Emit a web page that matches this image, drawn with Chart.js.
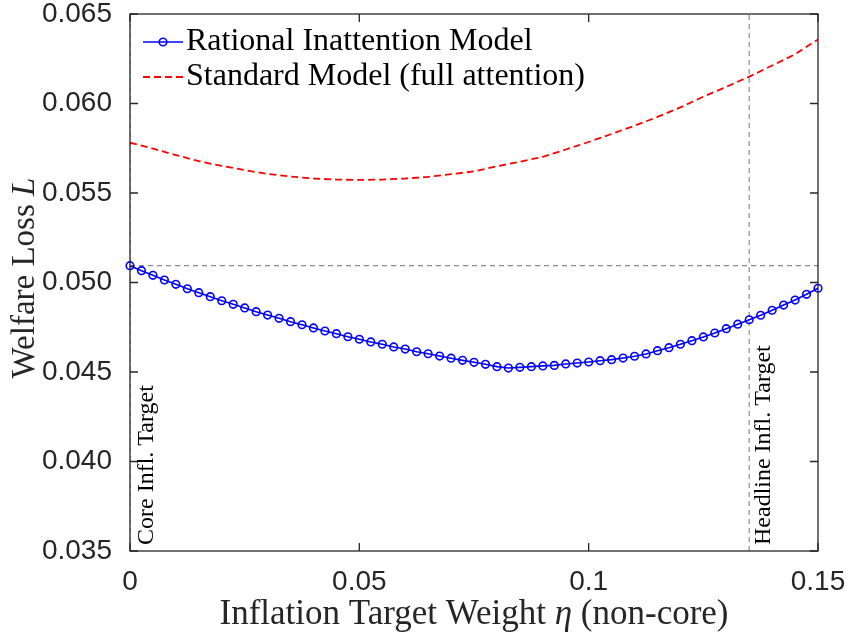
<!DOCTYPE html>
<html>
<head>
<meta charset="utf-8">
<script src="https://cdn.jsdelivr.net/npm/chart.js@4.4.0/dist/chart.umd.min.js"></script>
<style>
  html, body { margin: 0; padding: 0; background: #fff; }
  #wrap { width: 848px; height: 633px; }
</style>
</head>
<body>
<div id="wrap"><canvas id="lossChart"></canvas></div>
<script>
// inflation target weight on non-core (grid of the RI model)
const eta = [
  0, 0.0025, 0.005, 0.0075, 0.01, 0.0125, 0.015, 0.0175, 0.02, 0.0225,
  0.025, 0.0275, 0.03, 0.0325, 0.035, 0.0375, 0.04, 0.0425, 0.045, 0.0475,
  0.05, 0.0525, 0.055, 0.0575, 0.06, 0.0625, 0.065, 0.0675, 0.07, 0.0725,
  0.075, 0.0775, 0.08, 0.0825, 0.085, 0.0875, 0.09, 0.0925, 0.095, 0.0975,
  0.1, 0.1025, 0.105, 0.1075, 0.11, 0.1125, 0.115, 0.1175, 0.12, 0.1225,
  0.125, 0.1275, 0.13, 0.1325, 0.135, 0.1375, 0.14, 0.1425, 0.145, 0.1475,
  0.15
];
const riLoss = [
  0.05094, 0.05066, 0.05040, 0.05014, 0.04990, 0.04965, 0.04943, 0.04921, 0.04898, 0.04878,
  0.04858, 0.04837, 0.04818, 0.04800, 0.04781, 0.04764, 0.04746, 0.04729, 0.04714, 0.04697,
  0.04683, 0.04668, 0.04655, 0.04640, 0.04628, 0.04613, 0.04602, 0.04589, 0.04577, 0.04565,
  0.04554, 0.04543, 0.04530, 0.04522, 0.04526, 0.04530, 0.04534, 0.04537, 0.04545, 0.04550,
  0.04556, 0.04563, 0.04569, 0.04578, 0.04588, 0.04601, 0.04619, 0.04636, 0.04655, 0.04675,
  0.04696, 0.04718, 0.04742, 0.04767, 0.04792, 0.04817, 0.04845, 0.04874, 0.04902, 0.04934,
  0.04968
];
// standard model (full attention)
const etaStd = [
  0, 0.005, 0.01, 0.015, 0.02, 0.025, 0.03, 0.035, 0.04, 0.045,
  0.05, 0.055, 0.06, 0.065, 0.07, 0.075, 0.08, 0.085, 0.09, 0.095,
  0.1, 0.105, 0.11, 0.115, 0.12, 0.125, 0.13, 0.135, 0.14, 0.145,
  0.15
];
const stdLoss = [
  0.05781, 0.05748, 0.05712, 0.05678, 0.05651, 0.05628, 0.05606, 0.05592, 0.05581, 0.05575,
  0.05573, 0.05575, 0.05581, 0.05590, 0.05605, 0.05621, 0.05649, 0.05675, 0.05702, 0.05743,
  0.05785, 0.05830, 0.05876, 0.05925, 0.05978, 0.06038, 0.06093, 0.06150, 0.06212, 0.06275,
  0.06358
];
const coreTarget = 0;
const headlineTarget = 0.135;
const xTicks = [0, 0.05, 0.1, 0.15];
const xTickLabels = ["0", "0.05", "0.1", "0.15"];
const yTicks = [0.035, 0.04, 0.045, 0.05, 0.055, 0.06, 0.065];
const yTickLabels = ["0.035", "0.040", "0.045", "0.050", "0.055", "0.060", "0.065"];

const xMin = 0, xMax = 0.15, yMin = 0.035, yMax = 0.065;
const axisColor = "#262626";
const serif = "'Liberation Serif', 'Times New Roman', serif";

const toPts = (xs, ys) => xs.map((x, i) => ({ x: x, y: ys[i] }));

// draws mixed regular/italic text pieces centered horizontally at 0, on baseline 0
const drawPieces = (c, pieces, size) => {
  let total = 0;
  const widths = pieces.map((p) => {
    c.font = (p[1] ? "italic " : "") + size + "px " + serif;
    const w = c.measureText(p[0]).width;
    total += w;
    return w;
  });
  let x = -total / 2;
  pieces.forEach((p, i) => {
    c.font = (p[1] ? "italic " : "") + size + "px " + serif;
    c.fillText(p[0], x, 0);
    x += widths[i];
  });
};

const matlabAxes = {
  id: "matlabAxes",
  afterDraw(chart) {
    const c = chart.ctx;
    const a = chart.chartArea;
    const xs = chart.scales.x, ys = chart.scales.y;
    c.save();
    // box
    c.strokeStyle = axisColor;
    c.lineWidth = 1.3;
    c.setLineDash([]);
    c.strokeRect(a.left, a.top, a.right - a.left, a.bottom - a.top);
    // inward ticks on all sides
    const tl = 8;
    c.beginPath();
    xTicks.forEach((v) => {
      const px = xs.getPixelForValue(v);
      c.moveTo(px, a.bottom); c.lineTo(px, a.bottom - tl);
      c.moveTo(px, a.top); c.lineTo(px, a.top + tl);
    });
    yTicks.forEach((v) => {
      const py = ys.getPixelForValue(v);
      c.moveTo(a.left, py); c.lineTo(a.left + tl, py);
      c.moveTo(a.right, py); c.lineTo(a.right - tl, py);
    });
    c.stroke();

    // legend
    const lx0 = a.left + 13, lx1 = a.left + 53;
    const r1 = a.top + 28, r2 = a.top + 63;
    c.strokeStyle = "#0000ff";
    c.lineWidth = 1.6;
    c.beginPath(); c.moveTo(lx0, r1); c.lineTo(lx1, r1); c.stroke();
    c.beginPath(); c.arc((lx0 + lx1) / 2, r1, 3.8, 0, Math.PI * 2); c.stroke();
    c.strokeStyle = "#ff0000";
    c.lineWidth = 1.8;
    c.setLineDash([7, 4]);
    c.beginPath(); c.moveTo(lx0, r2); c.lineTo(lx1, r2); c.stroke();
    c.setLineDash([]);
    c.fillStyle = "#000";
    c.textAlign = "left";
    c.textBaseline = "middle";
    c.font = "32px " + serif;
    c.fillText("Rational Inattention Model", lx1 + 3, r1);
    c.fillText("Standard Model (full attention)", lx1 + 3, r2);

    // axis titles
    c.fillStyle = axisColor;
    c.textAlign = "left";
    c.textBaseline = "alphabetic";
    c.save();
    c.translate((a.left + a.right) / 2, 624);
    drawPieces(c, [["Inflation Target Weight ", false], ["\u03b7", true], [" (non-core)", false]], 35);
    c.restore();
    c.save();
    c.translate(34, 278);
    c.rotate(-Math.PI / 2);
    drawPieces(c, [["Welfare Loss ", false], ["L", true]], 33);
    c.restore();

    // target annotations
    c.fillStyle = "#000";
    c.font = "24px " + serif;
    c.textAlign = "left";
    c.textBaseline = "middle";
    c.save();
    c.translate(xs.getPixelForValue(coreTarget) + 17, a.bottom - 6);
    c.rotate(-Math.PI / 2);
    c.fillText("Core Infl. Target", 0, 0);
    c.restore();
    c.save();
    c.translate(xs.getPixelForValue(headlineTarget) + 15, a.bottom - 6);
    c.rotate(-Math.PI / 2);
    c.fillText("Headline Infl. Target", 0, 0);
    c.restore();
    c.restore();
  }
};

const refStyle = {
  borderColor: "#8c8c8c",
  borderWidth: 1.2,
  borderDash: [5, 4],
  pointRadius: 0,
  fill: false
};

new Chart(document.getElementById("lossChart").getContext("2d"), {
  type: "line",
  data: {
    datasets: [
      {
        label: "Rational Inattention Model",
        data: toPts(eta, riLoss),
        borderColor: "#0000ff",
        borderWidth: 1.6,
        pointRadius: 3.8,
        pointBorderWidth: 1.6,
        pointBorderColor: "#0000ff",
        pointBackgroundColor: "rgba(0,0,0,0)",
        tension: 0,
        clip: false
      },
      {
        label: "Standard Model (full attention)",
        data: toPts(etaStd, stdLoss),
        borderColor: "#ff0000",
        borderWidth: 1.8,
        borderDash: [7, 4],
        pointRadius: 0,
        tension: 0
      },
      Object.assign({ label: "core", data: [{ x: coreTarget, y: yMin }, { x: coreTarget, y: yMax }] }, refStyle),
      Object.assign({ label: "headline", data: [{ x: headlineTarget, y: yMin }, { x: headlineTarget, y: yMax }] }, refStyle),
      Object.assign({ label: "level", data: [{ x: xMin, y: riLoss[0] }, { x: xMax, y: riLoss[0] }] }, refStyle)
    ]
  },
  options: {
    responsive: true,
    maintainAspectRatio: false,
    animation: false,
    layout: { padding: { left: 0, right: 30, top: 14, bottom: 0 } },
    plugins: {
      legend: { display: false },
      tooltip: { enabled: false }
    },
    scales: {
      x: {
        type: "linear",
        min: xMin,
        max: xMax,
        grid: { display: false },
        border: { display: false },
        afterBuildTicks: (s) => { s.ticks = xTicks.map((v) => ({ value: v })); },
        afterFit: (s) => { s.height = 82; s.paddingLeft = 0; s.paddingRight = 0; },
        ticks: {
          padding: 6,
          color: axisColor,
          font: { family: "'Liberation Sans', Arial, sans-serif", size: 28 },
          callback: (v, i) => xTickLabels[i]
        }
      },
      y: {
        type: "linear",
        min: yMin,
        max: yMax,
        grid: { display: false },
        border: { display: false },
        afterBuildTicks: (s) => { s.ticks = yTicks.map((v) => ({ value: v })); },
        afterFit: (s) => { s.width = 130; s.paddingTop = 0; s.paddingBottom = 0; },
        ticks: {
          padding: 10,
          color: axisColor,
          font: { family: "'Liberation Sans', Arial, sans-serif", size: 28, lineHeight: 1 },
          callback: (v, i) => yTickLabels[i]
        }
      }
    }
  },
  plugins: [matlabAxes]
});
</script>
</body>
</html>
